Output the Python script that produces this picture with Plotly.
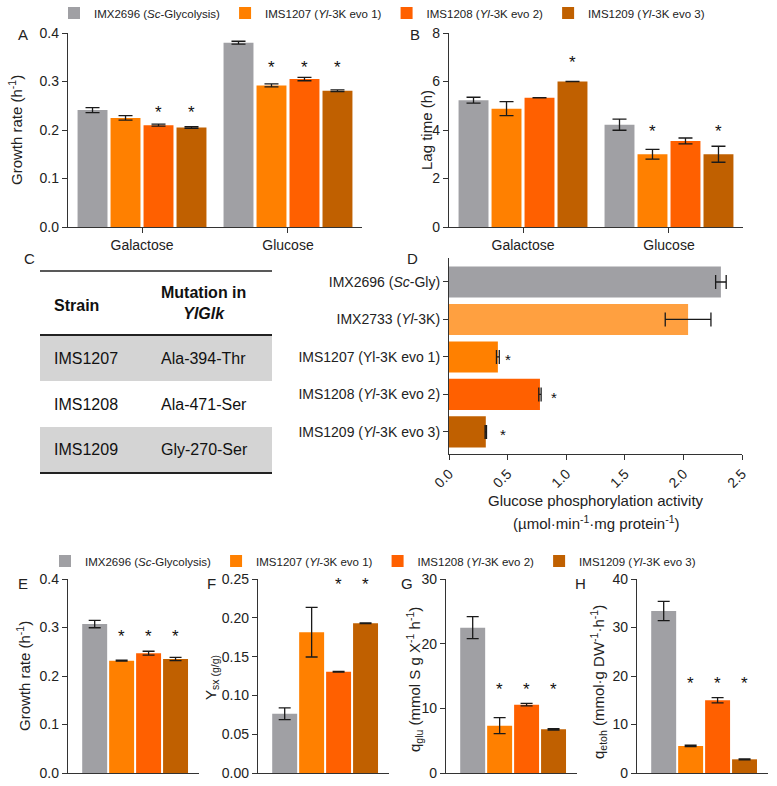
import plotly.graph_objects as go

W, H = 777, 786
def px(x): return x / W
def py(y): return 1 - y / H

# ---------------- data ----------------
strains = ["IMX2696 (<i>Sc</i>-Glycolysis)", "IMS1207 (<i>Yl</i>-3K evo 1)",
           "IMS1208 (<i>Yl</i>-3K evo 2)", "IMS1209 (<i>Yl</i>-3K evo 3)"]
colors = ["#a0a0a4", "#ff8000", "#ff6000", "#c06000"]
sugars = ["Galactose", "Glucose"]

# Panel A: growth rate [strain][sugar]
a_mu = [[0.241, 0.380], [0.225, 0.292], [0.210, 0.305], [0.205, 0.281]]
a_err = [[0.005, 0.003], [0.0045, 0.003], [0.002, 0.0035], [0.0017, 0.0017]]
a_sig = [[0, 0], [0, 1], [1, 1], [1, 1]]
a_star = [0.245, 0.337]

# Panel B: lag time [strain][sugar]
b_lag = [[5.23, 4.22], [4.88, 3.0], [5.33, 3.55], [6.0, 3.0]]
b_err = [[0.12, 0.23], [0.29, 0.2], [None, 0.12], [None, 0.33]]
b_sig = [[0, 0], [0, 1], [0, 0], [1, 1]]
b_star = [6.95, 4.1]

# Panel C: table
c_header = ["<b>Strain</b>", "<b>Mutation in</b><br><b><i>YlGlk</i></b>"]
c_strain = ["IMS1207", "IMS1208", "IMS1209"]
c_mut = ["Ala-394-Thr", "Ala-471-Ser", "Gly-270-Ser"]

# Panel D: glucose phosphorylation activity
d_labels = ["IMX2696 (<i>Sc</i>-Gly)", "IMX2733 (<i>Yl</i>-3K)", "IMS1207 (Yl-3K evo 1)",
            "IMS1208 (<i>Yl</i>-3K evo 2)", "IMS1209 (<i>Yl</i>-3K evo 3)"]
d_act = [2.32, 2.04, 0.417, 0.776, 0.314]
d_err = [0.045, 0.195, 0.012, 0.01, 0.006]
d_colors = ["#a0a0a4", "#ffa040", "#ff8000", "#ff6000", "#c06000"]
d_sig = [0, 0, 1, 1, 1]
d_star = [0, 0, 0.50, 0.90, 0.46]

# Panels E-H
e_mu = [0.307, 0.2315, 0.247, 0.235]; e_err = [0.0075, 0.001, 0.004, 0.0035]
e_sig = [0, 1, 1, 1]; e_star = 0.286
f_ysx = [0.0764, 0.1815, 0.1305, 0.193]; f_err = [0.0075, 0.032, 0.0004, 0.0005]
f_sig = [0, 0, 1, 1]; f_star = 0.245
g_q = [22.47, 7.32, 10.57, 6.75]; g_err = [1.7, 1.24, 0.2, 0.1]
g_sig = [0, 1, 1, 1]; g_star = 13.2
h_q = [33.4, 5.57, 15.0, 2.82]; h_err = [2.0, 0.15, 0.55, 0.1]
h_sig = [0, 1, 1, 1]; h_star = 18.9

# ---------------- figure ----------------
FONT = "Liberation Sans"
ERRC = "#1a1a1a"
fig = go.Figure()
ann = []

def errbar(vals, w=7):
    return dict(type="data", array=vals, visible=True, color=ERRC, thickness=1.3, width=w)

def stars(xs, ys, xa, ya, size=17, yshift=-4):
    for x, y in zip(xs, ys):
        ann.append(dict(x=x, y=y, xref=xa, yref=ya, text="*", showarrow=False,
                        xanchor="center", yanchor="middle", yshift=yshift,
                        font=dict(family=FONT, size=size, color="#111")))

# A and B grouped bars
step_ab, bw_ab = 0.226, 0.205
for panel, (vals, errs, sig, star, xa, ya) in enumerate([
        (a_mu, a_err, a_sig, a_star, "x", "y"),
        (b_lag, b_err, b_sig, b_star, "x2", "y2")]):
    sx, sy = [], []
    for i in range(4):
        xs = [j + (i - 1.5) * step_ab for j in range(len(sugars))]
        fig.add_trace(go.Bar(
            x=xs, y=vals[i], width=bw_ab, marker=dict(color=colors[i], line=dict(width=0)),
            error_y=errbar(errs[i]), name=strains[i], legend="legend",
            showlegend=(panel == 0), xaxis=xa, yaxis=ya, hoverinfo="skip"))
        for j in range(len(sugars)):
            if sig[i][j]:
                sx.append(xs[j]); sy.append(star[j])
    stars(sx, sy, xa, ya, 17, -4)

# D horizontal bars
fig.add_trace(go.Bar(
    x=d_act, y=list(range(len(d_act))), orientation="h", width=0.83,
    marker=dict(color=d_colors, line=dict(width=0)),
    error_x=errbar(d_err), showlegend=False, xaxis="x3", yaxis="y3", hoverinfo="skip"))
dsx = [d_star[k] for k in range(len(d_act)) if d_sig[k]]
dsy = [k for k in range(len(d_act)) if d_sig[k]]
stars(dsx, dsy, "x3", "y3", 15, -3)

# E-H single-group bars
for k, (vals, errs, sig, star) in enumerate([
        (e_mu, e_err, e_sig, e_star), (f_ysx, f_err, f_sig, f_star),
        (g_q, g_err, g_sig, g_star), (h_q, h_err, h_sig, h_star)]):
    xa, ya = "x%d" % (k + 4), "y%d" % (k + 4)
    for i in range(4):
        fig.add_trace(go.Bar(
            x=[i - 1.5], y=[vals[i]], width=0.926,
            marker=dict(color=colors[i], line=dict(width=0)),
            error_y=errbar([errs[i]], 6), name=strains[i], legend="legend2",
            showlegend=(k == 0), xaxis=xa, yaxis=ya, hoverinfo="skip"))
    sx = [i - 1.5 for i in range(4) if sig[i]]
    stars(sx, [star] * len(sx), xa, ya, 17, -2)

# ---------------- axes ----------------
AX = dict(showline=True, linecolor="#333", linewidth=1.3, ticks="outside", ticklen=5,
          tickwidth=1.3, tickcolor="#333", showgrid=False, zeroline=False,
          tickfont=dict(family=FONT, size=14, color="#222"), fixedrange=True)

def xdom(a, b): return [px(a), px(b)]
def ydom(top, bottom): return [py(bottom), py(top)]

lay = dict(
    width=W, height=H, margin=dict(l=0, r=0, t=0, b=0, autoexpand=False),
    paper_bgcolor="white", plot_bgcolor="white", barmode="overlay",
    font=dict(family=FONT, size=14, color="#222"),
    xaxis=dict(AX, domain=xdom(68, 362), range=[-0.507, 1.507], tickvals=[0, 1],
               ticktext=sugars, anchor="y"),
    yaxis=dict(AX, domain=ydom(33, 227), range=[0, 0.4], dtick=0.1, tickformat=".1f",
               anchor="x"),
    xaxis2=dict(AX, domain=xdom(449, 743), range=[-0.507, 1.507], tickvals=[0, 1],
                ticktext=sugars, anchor="y2"),
    yaxis2=dict(AX, domain=ydom(33, 227), range=[0, 8], dtick=2, anchor="x2"),
    xaxis3=dict(AX, domain=xdom(449, 742), range=[0, 2.5], dtick=0.5, tickformat=".1f",
                tickangle=-45, anchor="y3"),
    yaxis3=dict(AX, domain=ydom(258, 454), range=[4.59, -0.64],
                tickvals=list(range(len(d_labels))), ticktext=d_labels, anchor="x3"),
)
e_doms = [(68, 199), (258, 389), (446, 577), (637, 768)]
e_y = [dict(range=[0, 0.4], dtick=0.1, tickformat=".1f"),
       dict(range=[0, 0.25], dtick=0.05, tickformat=".2f"),
       dict(range=[0, 30], dtick=10),
       dict(range=[0, 40], dtick=10)]
for k in range(4):
    n = k + 4
    lay["xaxis%d" % n] = dict(AX, domain=xdom(*e_doms[k]), range=[-2.49, 2.37],
                              showticklabels=False, ticks="", anchor="y%d" % n)
    lay["yaxis%d" % n] = dict(AX, domain=ydom(579, 773), anchor="x%d" % n, **e_y[k])

LEGFONT = dict(family=FONT, size=11.5, color="#222")
lay["legend"] = dict(orientation="h", x=px(54), xanchor="left", y=py(13), yanchor="middle",
                     font=LEGFONT, bgcolor="rgba(0,0,0,0)", traceorder="normal",
                     itemclick=False, tracegroupgap=0)
lay["legend2"] = dict(orientation="h", x=px(45), xanchor="left", y=py(561), yanchor="middle",
                      font=LEGFONT, bgcolor="rgba(0,0,0,0)", traceorder="normal",
                      itemclick=False, tracegroupgap=0)
fig.update_layout(**lay)

# ---------------- annotations ----------------
def note(x, y, text, size=14, angle=0, xanchor="center", color="#222"):
    ann.append(dict(x=px(x), y=py(y), xref="paper", yref="paper", text=text,
                    showarrow=False, textangle=angle, xanchor=xanchor, yanchor="middle",
                    font=dict(family=FONT, size=size, color=color)))

for lab, x, y in [("A", 23, 35), ("B", 415, 35), ("C", 29, 258), ("D", 412, 258),
                  ("E", 23, 583), ("F", 212, 583), ("G", 407, 583), ("H", 580, 583)]:
    note(x, y, lab, 15)

note(16, 130, "Growth rate (h<sup>-1</sup>)", 15, -90)
note(427, 130, "Lag time (h)", 15, -90)
note(23, 676, "Growth rate (h<sup>-1</sup>)", 15, -90)
note(211, 678, "Y<sub>sx (g/g)</sub>", 15, -90)
note(414, 680, "q<sub>glu</sub> (mmol S g X<sup>-1</sup> h<sup>-1</sup>)", 15, -90)
note(598, 682, "q<sub>etoh</sub> (mmol·g DW<sup>-1</sup>·h<sup>-1</sup>)", 15, -90)
note(596, 500, "Glucose phosphorylation activity", 15)
note(596, 522, "(µmol·min<sup>-1</sup>·mg protein<sup>-1</sup>)", 15)

# table C
tx0, tx1, col2 = 40, 272, 159
hdr_top, hdr_bot, row_h = 271, 335, 46
shapes = []
for r in range(len(c_strain)):
    top = hdr_bot + r * row_h
    if r % 2 == 0:
        shapes.append(dict(type="rect", xref="paper", yref="paper", x0=px(tx0), x1=px(tx1),
                           y0=py(top + row_h), y1=py(top), fillcolor="#d4d4d4",
                           line=dict(width=0), layer="below"))
    note(52, top + row_h / 2, c_strain[r], 16, xanchor="left", color="#111")
    note(col2, top + row_h / 2, c_mut[r], 16, xanchor="left", color="#111")
note(52, (hdr_top + hdr_bot) / 2 + 2, c_header[0], 16, xanchor="left", color="#111")
note(col2, (hdr_top + hdr_bot) / 2, c_header[1], 16, xanchor="left", color="#111")
tbl_bot = hdr_bot + row_h * len(c_strain)
for yy, lw in [(hdr_top, 1.6), (hdr_bot, 2.2), (tbl_bot, 2.2)]:
    shapes.append(dict(type="line", xref="paper", yref="paper", x0=px(tx0), x1=px(tx1),
                       y0=py(yy), y1=py(yy), line=dict(color="#222", width=lw)))

fig.update_layout(annotations=ann, shapes=shapes)
fig.write_html("out.html")
